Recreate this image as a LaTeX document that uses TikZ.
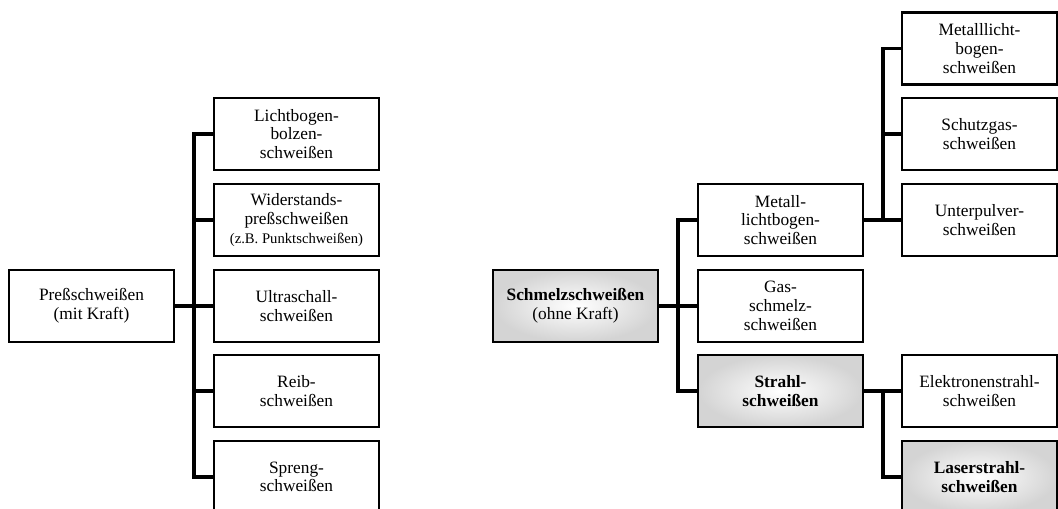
\documentclass[tikz,border=0pt]{standalone}
\usepackage{fontspec}
\setmainfont{Liberation Serif}
\usetikzlibrary{calc}
\tikzstyle{procbox} = [draw,rectangle,line width=1.6pt,minimum width=123.75pt,minimum height=54pt,inner sep=0pt,outer sep=0pt,align=center,font=\fontsize{13}{14}\selectfont]
\tikzstyle{keybox} = [procbox,inner color=white,outer color=black!17]
\tikzstyle{endbox} = [procbox,minimum width=116.25pt]
\tikzstyle{endkeybox} = [keybox,minimum width=116.25pt]
\tikzstyle{branch} = [line width=2.4pt]

\begin{document}
\begin{tikzpicture}[x=0.75pt,y=-0.75pt]
			\useasboundingbox (0,0) rectangle (1058,509);
			
			%% nodes, left tree
			\node[procbox] (press) at (91.5,306) {Preßschweißen\\(mit Kraft)};
			\node[procbox] (bolzen) at (296.5,134) {Lichtbogen-\\bolzen-\\schweißen};
			\node[procbox] (widerst) at (296.5,220) {Widerstands-\\preßschweißen\\{\fontsize{11}{12}\selectfont (z.B. Punktschweißen)}};
			\node[procbox] (ultra) at (296.5,306) {Ultraschall-\\schweißen};
			\node[procbox] (reib) at (296.5,391) {Reib-\\schweißen};
			\node[procbox] (spreng) at (296.5,477) {Spreng-\\schweißen};
			
			%% nodes, right tree
			\node[keybox] (schmelz) at (575.5,306) {\textbf{Schmelzschweißen}\\(ohne Kraft)};
			\node[procbox] (mlb) at (780.5,220) {Metall-\\lichtbogen-\\schweißen};
			\node[procbox] (gas) at (780.5,306) {Gas-\\schmelz-\\schweißen};
			\node[keybox] (strahl) at (780.5,391) {\textbf{Strahl-}\\\textbf{schweißen}};
			\node[endbox] (mlbs) at (979.5,48.5) {Metalllicht-\\bogen-\\schweißen};
			\node[endbox] (schutz) at (979.5,134) {Schutzgas-\\schweißen};
			\node[endbox] (unterp) at (979.5,220) {Unterpulver-\\schweißen};
			\node[endbox] (elektr) at (979.5,391) {Elektronenstrahl-\\schweißen};
			\node[endkeybox] (laser) at (979.5,477) {\textbf{Laserstrahl-}\\\textbf{schweißen}};
			
			%% edges
			\foreach \c in {bolzen,widerst,ultra,reib,spreng}
				\draw[branch] (press.east) -- ++(20,0) |- (\c.west);
			\foreach \c in {mlb,gas,strahl}
				\draw[branch] (schmelz.east) -- ++(20,0) |- (\c.west);
			\foreach \c in {mlbs,schutz,unterp}
				\draw[branch] (mlb.east) -- ++(20,0) |- (\c.west);
			\foreach \c in {elektr,laser}
				\draw[branch] (strahl.east) -- ++(20,0) |- (\c.west);
		\end{tikzpicture}
\end{document}
